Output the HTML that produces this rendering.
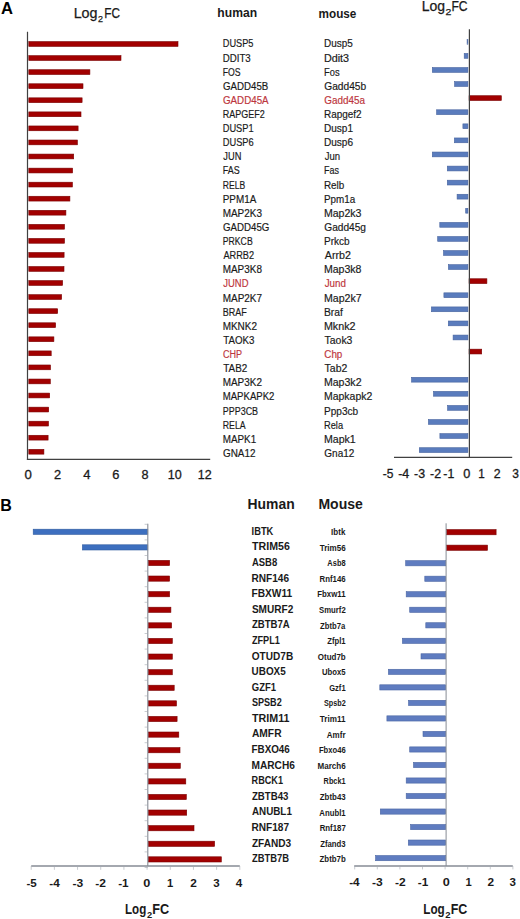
<!DOCTYPE html>
<html><head><meta charset="utf-8"><style>
html,body{margin:0;padding:0;background:#fff;}
body{width:520px;height:919px;overflow:hidden;}
svg{display:block;font-family:"Liberation Sans", sans-serif;}
</style></head><body>
<svg width="520" height="919" viewBox="0 0 520 919">
<rect width="520" height="919" fill="#fff"/>
<text x="0.9" y="13.5" font-size="16.6" font-weight="bold" fill="#000">A</text>
<text x="73.63" y="18.10" font-size="14.60" fill="#1a1a1a" stroke="#1a1a1a" stroke-width="0.25" textLength="23.90" lengthAdjust="spacingAndGlyphs">Log</text>
<text x="98.05" y="22.40" font-size="9.40" fill="#1a1a1a" stroke="#1a1a1a" stroke-width="0.25" textLength="5.01" lengthAdjust="spacingAndGlyphs">2</text>
<text x="104.23" y="18.10" font-size="14.60" fill="#1a1a1a" stroke="#1a1a1a" stroke-width="0.25" textLength="15.72" lengthAdjust="spacingAndGlyphs">FC</text>
<text x="421.75" y="11.30" font-size="14.10" fill="#1a1a1a" stroke="#1a1a1a" stroke-width="0.25" textLength="23.35" lengthAdjust="spacingAndGlyphs">Log</text>
<text x="445.47" y="15.40" font-size="9.00" fill="#1a1a1a" stroke="#1a1a1a" stroke-width="0.25" textLength="5.86" lengthAdjust="spacingAndGlyphs">2</text>
<text x="451.41" y="11.30" font-size="14.10" fill="#1a1a1a" stroke="#1a1a1a" stroke-width="0.25" textLength="16.16" lengthAdjust="spacingAndGlyphs">FC</text>
<text x="217.35" y="17.00" font-size="12.73" font-weight="bold" fill="#1a1a1a" textLength="39.73" lengthAdjust="spacingAndGlyphs">human</text>
<text x="318.53" y="18.40" font-size="12.73" font-weight="bold" fill="#1a1a1a" textLength="37.86" lengthAdjust="spacingAndGlyphs">mouse</text>
<rect x="28.80" y="41.60" width="149.20" height="4.80" fill="#a20000" stroke="#7a0000" stroke-width="0.6"/>
<rect x="28.80" y="55.66" width="92.20" height="4.80" fill="#a20000" stroke="#7a0000" stroke-width="0.6"/>
<rect x="28.80" y="69.72" width="61.10" height="4.80" fill="#a20000" stroke="#7a0000" stroke-width="0.6"/>
<rect x="28.80" y="83.78" width="54.20" height="4.80" fill="#a20000" stroke="#7a0000" stroke-width="0.6"/>
<rect x="28.80" y="97.84" width="53.30" height="4.80" fill="#a20000" stroke="#7a0000" stroke-width="0.6"/>
<rect x="28.80" y="111.90" width="52.20" height="4.80" fill="#a20000" stroke="#7a0000" stroke-width="0.6"/>
<rect x="28.80" y="125.96" width="49.30" height="4.80" fill="#a20000" stroke="#7a0000" stroke-width="0.6"/>
<rect x="28.80" y="140.02" width="48.60" height="4.80" fill="#a20000" stroke="#7a0000" stroke-width="0.6"/>
<rect x="28.80" y="154.08" width="44.90" height="4.80" fill="#a20000" stroke="#7a0000" stroke-width="0.6"/>
<rect x="28.80" y="168.14" width="43.80" height="4.80" fill="#a20000" stroke="#7a0000" stroke-width="0.6"/>
<rect x="28.80" y="182.20" width="43.60" height="4.80" fill="#a20000" stroke="#7a0000" stroke-width="0.6"/>
<rect x="28.80" y="196.26" width="41.10" height="4.80" fill="#a20000" stroke="#7a0000" stroke-width="0.6"/>
<rect x="28.80" y="210.32" width="37.10" height="4.80" fill="#a20000" stroke="#7a0000" stroke-width="0.6"/>
<rect x="28.80" y="224.38" width="35.70" height="4.80" fill="#a20000" stroke="#7a0000" stroke-width="0.6"/>
<rect x="28.80" y="238.44" width="35.70" height="4.80" fill="#a20000" stroke="#7a0000" stroke-width="0.6"/>
<rect x="28.80" y="252.50" width="35.30" height="4.80" fill="#a20000" stroke="#7a0000" stroke-width="0.6"/>
<rect x="28.80" y="266.56" width="35.20" height="4.80" fill="#a20000" stroke="#7a0000" stroke-width="0.6"/>
<rect x="28.80" y="280.62" width="33.80" height="4.80" fill="#a20000" stroke="#7a0000" stroke-width="0.6"/>
<rect x="28.80" y="294.68" width="32.80" height="4.80" fill="#a20000" stroke="#7a0000" stroke-width="0.6"/>
<rect x="28.80" y="308.74" width="28.90" height="4.80" fill="#a20000" stroke="#7a0000" stroke-width="0.6"/>
<rect x="28.80" y="322.80" width="26.80" height="4.80" fill="#a20000" stroke="#7a0000" stroke-width="0.6"/>
<rect x="28.80" y="336.86" width="25.10" height="4.80" fill="#a20000" stroke="#7a0000" stroke-width="0.6"/>
<rect x="28.80" y="350.92" width="22.40" height="4.80" fill="#a20000" stroke="#7a0000" stroke-width="0.6"/>
<rect x="28.80" y="364.98" width="21.70" height="4.80" fill="#a20000" stroke="#7a0000" stroke-width="0.6"/>
<rect x="28.80" y="379.04" width="21.50" height="4.80" fill="#a20000" stroke="#7a0000" stroke-width="0.6"/>
<rect x="28.80" y="393.10" width="20.90" height="4.80" fill="#a20000" stroke="#7a0000" stroke-width="0.6"/>
<rect x="28.80" y="407.16" width="19.90" height="4.80" fill="#a20000" stroke="#7a0000" stroke-width="0.6"/>
<rect x="28.80" y="421.22" width="19.70" height="4.80" fill="#a20000" stroke="#7a0000" stroke-width="0.6"/>
<rect x="28.80" y="435.28" width="19.30" height="4.80" fill="#a20000" stroke="#7a0000" stroke-width="0.6"/>
<rect x="28.80" y="449.34" width="15.10" height="4.80" fill="#a20000" stroke="#7a0000" stroke-width="0.6"/>
<line x1="27.50" y1="31.80" x2="27.50" y2="460.00" stroke="#404040" stroke-width="1.2"/>
<line x1="26.90" y1="459.40" x2="210.20" y2="459.40" stroke="#404040" stroke-width="1.3"/>
<text x="24.42" y="478.80" font-size="12.65" fill="#1a1a1a" stroke="#1a1a1a" stroke-width="0.3" textLength="7.36" lengthAdjust="spacingAndGlyphs">0</text>
<text x="53.94" y="478.80" font-size="12.65" fill="#1a1a1a" stroke="#1a1a1a" stroke-width="0.3" textLength="7.12" lengthAdjust="spacingAndGlyphs">2</text>
<text x="83.31" y="478.80" font-size="12.65" fill="#1a1a1a" stroke="#1a1a1a" stroke-width="0.3" textLength="7.26" lengthAdjust="spacingAndGlyphs">4</text>
<text x="112.38" y="478.80" font-size="12.65" fill="#1a1a1a" stroke="#1a1a1a" stroke-width="0.3" textLength="7.16" lengthAdjust="spacingAndGlyphs">6</text>
<text x="141.48" y="478.80" font-size="12.65" fill="#1a1a1a" stroke="#1a1a1a" stroke-width="0.3" textLength="7.03" lengthAdjust="spacingAndGlyphs">8</text>
<text x="167.78" y="478.80" font-size="12.65" fill="#1a1a1a" stroke="#1a1a1a" stroke-width="0.3" textLength="13.98" lengthAdjust="spacingAndGlyphs">10</text>
<text x="197.70" y="478.80" font-size="12.65" fill="#1a1a1a" stroke="#1a1a1a" stroke-width="0.3" textLength="13.88" lengthAdjust="spacingAndGlyphs">12</text>
<text x="222.75" y="47.40" font-size="10.58" fill="#1a1a1a" stroke="#1a1a1a" stroke-width="0.18" textLength="30.67" lengthAdjust="spacingAndGlyphs">DUSP5</text>
<text x="323.98" y="47.40" font-size="10.58" fill="#1a1a1a" stroke="#1a1a1a" stroke-width="0.18" textLength="28.77" lengthAdjust="spacingAndGlyphs">Dusp5</text>
<text x="222.70" y="61.52" font-size="10.58" fill="#1a1a1a" stroke="#1a1a1a" stroke-width="0.18" textLength="28.01" lengthAdjust="spacingAndGlyphs">DDIT3</text>
<text x="323.92" y="61.52" font-size="10.58" fill="#1a1a1a" stroke="#1a1a1a" stroke-width="0.18" textLength="25.15" lengthAdjust="spacingAndGlyphs">Ddit3</text>
<text x="222.79" y="75.64" font-size="10.58" fill="#1a1a1a" stroke="#1a1a1a" stroke-width="0.18" textLength="17.82" lengthAdjust="spacingAndGlyphs">FOS</text>
<text x="324.04" y="75.64" font-size="10.58" fill="#1a1a1a" stroke="#1a1a1a" stroke-width="0.18" textLength="15.53" lengthAdjust="spacingAndGlyphs">Fos</text>
<text x="223.01" y="89.76" font-size="10.58" fill="#1a1a1a" stroke="#1a1a1a" stroke-width="0.18" textLength="45.26" lengthAdjust="spacingAndGlyphs">GADD45B</text>
<text x="324.29" y="89.76" font-size="10.58" fill="#1a1a1a" stroke="#1a1a1a" stroke-width="0.18" textLength="41.91" lengthAdjust="spacingAndGlyphs">Gadd45b</text>
<text x="223.01" y="103.88" font-size="10.58" fill="#bd363d" stroke="#bd363d" stroke-width="0.18" textLength="45.61" lengthAdjust="spacingAndGlyphs">GADD45A</text>
<text x="324.30" y="103.88" font-size="10.58" fill="#bd363d" stroke="#bd363d" stroke-width="0.18" textLength="40.66" lengthAdjust="spacingAndGlyphs">Gadd45a</text>
<text x="222.76" y="118.00" font-size="10.58" fill="#1a1a1a" stroke="#1a1a1a" stroke-width="0.18" textLength="41.98" lengthAdjust="spacingAndGlyphs">RAPGEF2</text>
<text x="323.98" y="118.00" font-size="10.58" fill="#1a1a1a" stroke="#1a1a1a" stroke-width="0.18" textLength="37.63" lengthAdjust="spacingAndGlyphs">Rapgef2</text>
<text x="222.74" y="132.12" font-size="10.58" fill="#1a1a1a" stroke="#1a1a1a" stroke-width="0.18" textLength="30.90" lengthAdjust="spacingAndGlyphs">DUSP1</text>
<text x="323.98" y="132.12" font-size="10.58" fill="#1a1a1a" stroke="#1a1a1a" stroke-width="0.18" textLength="29.01" lengthAdjust="spacingAndGlyphs">Dusp1</text>
<text x="222.74" y="146.24" font-size="10.58" fill="#1a1a1a" stroke="#1a1a1a" stroke-width="0.18" textLength="30.97" lengthAdjust="spacingAndGlyphs">DUSP6</text>
<text x="323.97" y="146.24" font-size="10.58" fill="#1a1a1a" stroke="#1a1a1a" stroke-width="0.18" textLength="29.08" lengthAdjust="spacingAndGlyphs">Dusp6</text>
<text x="223.35" y="160.36" font-size="10.58" fill="#1a1a1a" stroke="#1a1a1a" stroke-width="0.18" textLength="18.04" lengthAdjust="spacingAndGlyphs">JUN</text>
<text x="324.65" y="160.36" font-size="10.58" fill="#1a1a1a" stroke="#1a1a1a" stroke-width="0.18" textLength="15.37" lengthAdjust="spacingAndGlyphs">Jun</text>
<text x="222.79" y="174.48" font-size="10.58" fill="#1a1a1a" stroke="#1a1a1a" stroke-width="0.18" textLength="16.87" lengthAdjust="spacingAndGlyphs">FAS</text>
<text x="324.06" y="174.48" font-size="10.58" fill="#1a1a1a" stroke="#1a1a1a" stroke-width="0.18" textLength="14.94" lengthAdjust="spacingAndGlyphs">Fas</text>
<text x="222.80" y="188.60" font-size="10.58" fill="#1a1a1a" stroke="#1a1a1a" stroke-width="0.18" textLength="22.41" lengthAdjust="spacingAndGlyphs">RELB</text>
<text x="323.99" y="188.60" font-size="10.58" fill="#1a1a1a" stroke="#1a1a1a" stroke-width="0.18" textLength="20.29" lengthAdjust="spacingAndGlyphs">Relb</text>
<text x="222.69" y="202.72" font-size="10.58" fill="#1a1a1a" stroke="#1a1a1a" stroke-width="0.18" textLength="33.58" lengthAdjust="spacingAndGlyphs">PPM1A</text>
<text x="323.99" y="202.72" font-size="10.58" fill="#1a1a1a" stroke="#1a1a1a" stroke-width="0.18" textLength="31.24" lengthAdjust="spacingAndGlyphs">Ppm1a</text>
<text x="222.68" y="216.84" font-size="10.58" fill="#1a1a1a" stroke="#1a1a1a" stroke-width="0.18" textLength="39.26" lengthAdjust="spacingAndGlyphs">MAP2K3</text>
<text x="323.93" y="216.84" font-size="10.58" fill="#1a1a1a" stroke="#1a1a1a" stroke-width="0.18" textLength="37.58" lengthAdjust="spacingAndGlyphs">Map2k3</text>
<text x="223.01" y="230.96" font-size="10.58" fill="#1a1a1a" stroke="#1a1a1a" stroke-width="0.18" textLength="46.35" lengthAdjust="spacingAndGlyphs">GADD45G</text>
<text x="324.29" y="230.96" font-size="10.58" fill="#1a1a1a" stroke="#1a1a1a" stroke-width="0.18" textLength="41.73" lengthAdjust="spacingAndGlyphs">Gadd45g</text>
<text x="222.79" y="245.08" font-size="10.58" fill="#1a1a1a" stroke="#1a1a1a" stroke-width="0.18" textLength="29.89" lengthAdjust="spacingAndGlyphs">PRKCB</text>
<text x="323.98" y="245.08" font-size="10.58" fill="#1a1a1a" stroke="#1a1a1a" stroke-width="0.18" textLength="25.65" lengthAdjust="spacingAndGlyphs">Prkcb</text>
<text x="223.48" y="259.20" font-size="10.58" fill="#1a1a1a" stroke="#1a1a1a" stroke-width="0.18" textLength="30.64" lengthAdjust="spacingAndGlyphs">ARRB2</text>
<text x="324.78" y="259.20" font-size="10.58" fill="#1a1a1a" stroke="#1a1a1a" stroke-width="0.18" textLength="26.12" lengthAdjust="spacingAndGlyphs">Arrb2</text>
<text x="222.68" y="273.32" font-size="10.58" fill="#1a1a1a" stroke="#1a1a1a" stroke-width="0.18" textLength="39.24" lengthAdjust="spacingAndGlyphs">MAP3K8</text>
<text x="323.93" y="273.32" font-size="10.58" fill="#1a1a1a" stroke="#1a1a1a" stroke-width="0.18" textLength="37.55" lengthAdjust="spacingAndGlyphs">Map3k8</text>
<text x="223.35" y="287.44" font-size="10.58" fill="#bd363d" stroke="#bd363d" stroke-width="0.18" textLength="25.14" lengthAdjust="spacingAndGlyphs">JUND</text>
<text x="324.65" y="287.44" font-size="10.58" fill="#bd363d" stroke="#bd363d" stroke-width="0.18" textLength="21.22" lengthAdjust="spacingAndGlyphs">Jund</text>
<text x="222.68" y="301.56" font-size="10.58" fill="#1a1a1a" stroke="#1a1a1a" stroke-width="0.18" textLength="39.40" lengthAdjust="spacingAndGlyphs">MAP2K7</text>
<text x="323.93" y="301.56" font-size="10.58" fill="#1a1a1a" stroke="#1a1a1a" stroke-width="0.18" textLength="37.72" lengthAdjust="spacingAndGlyphs">Map2k7</text>
<text x="222.76" y="315.68" font-size="10.58" fill="#1a1a1a" stroke="#1a1a1a" stroke-width="0.18" textLength="23.99" lengthAdjust="spacingAndGlyphs">BRAF</text>
<text x="323.95" y="315.68" font-size="10.58" fill="#1a1a1a" stroke="#1a1a1a" stroke-width="0.18" textLength="18.91" lengthAdjust="spacingAndGlyphs">Braf</text>
<text x="222.68" y="329.80" font-size="10.58" fill="#1a1a1a" stroke="#1a1a1a" stroke-width="0.18" textLength="34.34" lengthAdjust="spacingAndGlyphs">MKNK2</text>
<text x="323.92" y="329.80" font-size="10.58" fill="#1a1a1a" stroke="#1a1a1a" stroke-width="0.18" textLength="31.62" lengthAdjust="spacingAndGlyphs">Mknk2</text>
<text x="223.29" y="343.92" font-size="10.58" fill="#1a1a1a" stroke="#1a1a1a" stroke-width="0.18" textLength="31.19" lengthAdjust="spacingAndGlyphs">TAOK3</text>
<text x="324.57" y="343.92" font-size="10.58" fill="#1a1a1a" stroke="#1a1a1a" stroke-width="0.18" textLength="27.84" lengthAdjust="spacingAndGlyphs">Taok3</text>
<text x="223.04" y="358.04" font-size="10.58" fill="#bd363d" stroke="#bd363d" stroke-width="0.18" textLength="19.12" lengthAdjust="spacingAndGlyphs">CHP</text>
<text x="324.30" y="358.04" font-size="10.58" fill="#bd363d" stroke="#bd363d" stroke-width="0.18" textLength="18.03" lengthAdjust="spacingAndGlyphs">Chp</text>
<text x="223.28" y="372.16" font-size="10.58" fill="#1a1a1a" stroke="#1a1a1a" stroke-width="0.18" textLength="24.00" lengthAdjust="spacingAndGlyphs">TAB2</text>
<text x="324.58" y="372.16" font-size="10.58" fill="#1a1a1a" stroke="#1a1a1a" stroke-width="0.18" textLength="22.70" lengthAdjust="spacingAndGlyphs">Tab2</text>
<text x="222.68" y="386.28" font-size="10.58" fill="#1a1a1a" stroke="#1a1a1a" stroke-width="0.18" textLength="39.28" lengthAdjust="spacingAndGlyphs">MAP3K2</text>
<text x="323.93" y="386.28" font-size="10.58" fill="#1a1a1a" stroke="#1a1a1a" stroke-width="0.18" textLength="37.60" lengthAdjust="spacingAndGlyphs">Map3k2</text>
<text x="222.71" y="400.40" font-size="10.58" fill="#1a1a1a" stroke="#1a1a1a" stroke-width="0.18" textLength="51.75" lengthAdjust="spacingAndGlyphs">MAPKAPK2</text>
<text x="323.94" y="400.40" font-size="10.58" fill="#1a1a1a" stroke="#1a1a1a" stroke-width="0.18" textLength="48.35" lengthAdjust="spacingAndGlyphs">Mapkapk2</text>
<text x="222.77" y="414.52" font-size="10.58" fill="#1a1a1a" stroke="#1a1a1a" stroke-width="0.18" textLength="35.32" lengthAdjust="spacingAndGlyphs">PPP3CB</text>
<text x="323.97" y="414.52" font-size="10.58" fill="#1a1a1a" stroke="#1a1a1a" stroke-width="0.18" textLength="34.18" lengthAdjust="spacingAndGlyphs">Ppp3cb</text>
<text x="222.78" y="428.64" font-size="10.58" fill="#1a1a1a" stroke="#1a1a1a" stroke-width="0.18" textLength="22.83" lengthAdjust="spacingAndGlyphs">RELA</text>
<text x="324.04" y="428.64" font-size="10.58" fill="#1a1a1a" stroke="#1a1a1a" stroke-width="0.18" textLength="19.02" lengthAdjust="spacingAndGlyphs">Rela</text>
<text x="222.69" y="442.76" font-size="10.58" fill="#1a1a1a" stroke="#1a1a1a" stroke-width="0.18" textLength="33.50" lengthAdjust="spacingAndGlyphs">MAPK1</text>
<text x="323.93" y="442.76" font-size="10.58" fill="#1a1a1a" stroke="#1a1a1a" stroke-width="0.18" textLength="31.83" lengthAdjust="spacingAndGlyphs">Mapk1</text>
<text x="223.00" y="456.88" font-size="10.58" fill="#1a1a1a" stroke="#1a1a1a" stroke-width="0.18" textLength="32.51" lengthAdjust="spacingAndGlyphs">GNA12</text>
<text x="324.30" y="456.88" font-size="10.58" fill="#1a1a1a" stroke="#1a1a1a" stroke-width="0.18" textLength="30.03" lengthAdjust="spacingAndGlyphs">Gna12</text>
<rect x="467.10" y="39.40" width="0.80" height="4.80" fill="#5a7cbd" stroke="#46639e" stroke-width="0.6"/>
<rect x="464.20" y="53.48" width="3.70" height="4.80" fill="#5a7cbd" stroke="#46639e" stroke-width="0.6"/>
<rect x="432.30" y="67.56" width="35.60" height="4.80" fill="#5a7cbd" stroke="#46639e" stroke-width="0.6"/>
<rect x="454.60" y="81.64" width="13.30" height="4.80" fill="#5a7cbd" stroke="#46639e" stroke-width="0.6"/>
<rect x="469.10" y="95.72" width="32.20" height="4.80" fill="#a20000" stroke="#7a0000" stroke-width="0.6"/>
<rect x="436.60" y="109.80" width="31.30" height="4.80" fill="#5a7cbd" stroke="#46639e" stroke-width="0.6"/>
<rect x="462.90" y="123.88" width="5.00" height="4.80" fill="#5a7cbd" stroke="#46639e" stroke-width="0.6"/>
<rect x="454.40" y="137.96" width="13.50" height="4.80" fill="#5a7cbd" stroke="#46639e" stroke-width="0.6"/>
<rect x="432.30" y="152.04" width="35.60" height="4.80" fill="#5a7cbd" stroke="#46639e" stroke-width="0.6"/>
<rect x="447.30" y="166.12" width="20.60" height="4.80" fill="#5a7cbd" stroke="#46639e" stroke-width="0.6"/>
<rect x="447.30" y="180.20" width="20.60" height="4.80" fill="#5a7cbd" stroke="#46639e" stroke-width="0.6"/>
<rect x="457.10" y="194.28" width="10.80" height="4.80" fill="#5a7cbd" stroke="#46639e" stroke-width="0.6"/>
<rect x="465.70" y="208.36" width="2.20" height="4.80" fill="#5a7cbd" stroke="#46639e" stroke-width="0.6"/>
<rect x="439.80" y="222.44" width="28.10" height="4.80" fill="#5a7cbd" stroke="#46639e" stroke-width="0.6"/>
<rect x="437.70" y="236.52" width="30.20" height="4.80" fill="#5a7cbd" stroke="#46639e" stroke-width="0.6"/>
<rect x="443.50" y="250.60" width="24.40" height="4.80" fill="#5a7cbd" stroke="#46639e" stroke-width="0.6"/>
<rect x="448.40" y="264.68" width="19.50" height="4.80" fill="#5a7cbd" stroke="#46639e" stroke-width="0.6"/>
<rect x="469.10" y="278.76" width="17.80" height="4.80" fill="#a20000" stroke="#7a0000" stroke-width="0.6"/>
<rect x="443.90" y="292.84" width="24.00" height="4.80" fill="#5a7cbd" stroke="#46639e" stroke-width="0.6"/>
<rect x="431.40" y="306.92" width="36.50" height="4.80" fill="#5a7cbd" stroke="#46639e" stroke-width="0.6"/>
<rect x="448.30" y="321.00" width="19.60" height="4.80" fill="#5a7cbd" stroke="#46639e" stroke-width="0.6"/>
<rect x="453.10" y="335.08" width="14.80" height="4.80" fill="#5a7cbd" stroke="#46639e" stroke-width="0.6"/>
<rect x="469.10" y="349.16" width="12.60" height="4.80" fill="#a20000" stroke="#7a0000" stroke-width="0.6"/>
<rect x="411.60" y="377.32" width="56.30" height="4.80" fill="#5a7cbd" stroke="#46639e" stroke-width="0.6"/>
<rect x="433.50" y="391.40" width="34.40" height="4.80" fill="#5a7cbd" stroke="#46639e" stroke-width="0.6"/>
<rect x="447.60" y="405.48" width="20.30" height="4.80" fill="#5a7cbd" stroke="#46639e" stroke-width="0.6"/>
<rect x="428.40" y="419.56" width="39.50" height="4.80" fill="#5a7cbd" stroke="#46639e" stroke-width="0.6"/>
<rect x="439.90" y="433.64" width="28.00" height="4.80" fill="#5a7cbd" stroke="#46639e" stroke-width="0.6"/>
<rect x="419.30" y="447.72" width="48.60" height="4.80" fill="#5a7cbd" stroke="#46639e" stroke-width="0.6"/>
<line x1="469.40" y1="29.20" x2="469.40" y2="457.80" stroke="#404040" stroke-width="1.2"/>
<line x1="394.00" y1="457.30" x2="512.20" y2="457.30" stroke="#404040" stroke-width="1.3"/>
<text x="382.66" y="478.20" font-size="12.19" fill="#1a1a1a" stroke="#1a1a1a" stroke-width="0.3" textLength="10.65" lengthAdjust="spacingAndGlyphs">-5</text>
<text x="398.15" y="478.20" font-size="12.19" fill="#1a1a1a" stroke="#1a1a1a" stroke-width="0.3" textLength="11.10" lengthAdjust="spacingAndGlyphs">-4</text>
<text x="414.10" y="478.20" font-size="12.19" fill="#1a1a1a" stroke="#1a1a1a" stroke-width="0.3" textLength="10.98" lengthAdjust="spacingAndGlyphs">-3</text>
<text x="430.13" y="478.20" font-size="12.19" fill="#1a1a1a" stroke="#1a1a1a" stroke-width="0.3" textLength="11.01" lengthAdjust="spacingAndGlyphs">-2</text>
<text x="443.35" y="478.20" font-size="12.19" fill="#1a1a1a" stroke="#1a1a1a" stroke-width="0.3" textLength="10.95" lengthAdjust="spacingAndGlyphs">-1</text>
<text x="463.35" y="478.20" font-size="12.19" fill="#1a1a1a" stroke="#1a1a1a" stroke-width="0.3" textLength="7.09" lengthAdjust="spacingAndGlyphs">0</text>
<text x="478.20" y="478.20" font-size="12.19" fill="#1a1a1a" stroke="#1a1a1a" stroke-width="0.3" textLength="6.49" lengthAdjust="spacingAndGlyphs">1</text>
<text x="493.77" y="478.20" font-size="12.19" fill="#1a1a1a" stroke="#1a1a1a" stroke-width="0.3" textLength="6.86" lengthAdjust="spacingAndGlyphs">2</text>
<text x="512.32" y="478.20" font-size="12.19" fill="#1a1a1a" stroke="#1a1a1a" stroke-width="0.3" textLength="6.64" lengthAdjust="spacingAndGlyphs">3</text>
<text x="0.3" y="511.2" font-size="16" font-weight="bold" fill="#000">B</text>
<text x="247.57" y="509.40" font-size="14.04" font-weight="bold" fill="#1a1a1a" textLength="47.09" lengthAdjust="spacingAndGlyphs">Human</text>
<text x="318.46" y="509.40" font-size="14.04" font-weight="bold" fill="#1a1a1a" textLength="44.35" lengthAdjust="spacingAndGlyphs">Mouse</text>
<text x="251.58" y="534.80" font-size="10.00" font-weight="bold" fill="#1a1a1a" textLength="21.75" lengthAdjust="spacingAndGlyphs">IBTK</text>
<text x="331.10" y="535.00" font-size="9.29" font-weight="bold" fill="#1a1a1a" textLength="14.29" lengthAdjust="spacingAndGlyphs">Ibtk</text>
<text x="252.08" y="550.39" font-size="10.00" font-weight="bold" fill="#1a1a1a" textLength="37.73" lengthAdjust="spacingAndGlyphs">TRIM56</text>
<text x="319.71" y="550.59" font-size="9.29" font-weight="bold" fill="#1a1a1a" textLength="25.97" lengthAdjust="spacingAndGlyphs">Trim56</text>
<text x="251.96" y="565.98" font-size="10.00" font-weight="bold" fill="#1a1a1a" textLength="25.26" lengthAdjust="spacingAndGlyphs">ASB8</text>
<text x="327.37" y="566.18" font-size="9.29" font-weight="bold" fill="#1a1a1a" textLength="18.26" lengthAdjust="spacingAndGlyphs">Asb8</text>
<text x="251.53" y="581.57" font-size="10.00" font-weight="bold" fill="#1a1a1a" textLength="37.56" lengthAdjust="spacingAndGlyphs">RNF146</text>
<text x="319.59" y="581.77" font-size="9.29" font-weight="bold" fill="#1a1a1a" textLength="26.09" lengthAdjust="spacingAndGlyphs">Rnf146</text>
<text x="251.53" y="597.16" font-size="10.00" font-weight="bold" fill="#1a1a1a" textLength="40.72" lengthAdjust="spacingAndGlyphs">FBXW11</text>
<text x="317.24" y="597.36" font-size="9.29" font-weight="bold" fill="#1a1a1a" textLength="28.37" lengthAdjust="spacingAndGlyphs">Fbxw11</text>
<text x="251.91" y="612.75" font-size="10.00" font-weight="bold" fill="#1a1a1a" textLength="41.35" lengthAdjust="spacingAndGlyphs">SMURF2</text>
<text x="319.09" y="612.95" font-size="9.29" font-weight="bold" fill="#1a1a1a" textLength="26.62" lengthAdjust="spacingAndGlyphs">Smurf2</text>
<text x="251.91" y="628.34" font-size="10.00" font-weight="bold" fill="#1a1a1a" textLength="37.86" lengthAdjust="spacingAndGlyphs">ZBTB7A</text>
<text x="320.12" y="628.54" font-size="9.29" font-weight="bold" fill="#1a1a1a" textLength="25.23" lengthAdjust="spacingAndGlyphs">Zbtb7a</text>
<text x="251.93" y="643.93" font-size="10.00" font-weight="bold" fill="#1a1a1a" textLength="27.96" lengthAdjust="spacingAndGlyphs">ZFPL1</text>
<text x="327.21" y="644.13" font-size="9.29" font-weight="bold" fill="#1a1a1a" textLength="18.40" lengthAdjust="spacingAndGlyphs">Zfpl1</text>
<text x="251.79" y="659.52" font-size="10.00" font-weight="bold" fill="#1a1a1a" textLength="41.42" lengthAdjust="spacingAndGlyphs">OTUD7B</text>
<text x="317.77" y="659.72" font-size="9.29" font-weight="bold" fill="#1a1a1a" textLength="27.96" lengthAdjust="spacingAndGlyphs">Otud7b</text>
<text x="251.61" y="675.11" font-size="10.00" font-weight="bold" fill="#1a1a1a" textLength="34.12" lengthAdjust="spacingAndGlyphs">UBOX5</text>
<text x="322.03" y="675.31" font-size="9.29" font-weight="bold" fill="#1a1a1a" textLength="23.58" lengthAdjust="spacingAndGlyphs">Ubox5</text>
<text x="251.81" y="690.70" font-size="10.00" font-weight="bold" fill="#1a1a1a" textLength="24.25" lengthAdjust="spacingAndGlyphs">GZF1</text>
<text x="329.21" y="690.90" font-size="9.29" font-weight="bold" fill="#1a1a1a" textLength="16.40" lengthAdjust="spacingAndGlyphs">Gzf1</text>
<text x="251.94" y="706.29" font-size="10.00" font-weight="bold" fill="#1a1a1a" textLength="29.78" lengthAdjust="spacingAndGlyphs">SPSB2</text>
<text x="323.97" y="706.49" font-size="9.29" font-weight="bold" fill="#1a1a1a" textLength="21.72" lengthAdjust="spacingAndGlyphs">Spsb2</text>
<text x="252.08" y="721.88" font-size="10.00" font-weight="bold" fill="#1a1a1a" textLength="37.45" lengthAdjust="spacingAndGlyphs">TRIM11</text>
<text x="319.85" y="722.08" font-size="9.29" font-weight="bold" fill="#1a1a1a" textLength="25.77" lengthAdjust="spacingAndGlyphs">Trim11</text>
<text x="251.94" y="737.47" font-size="10.00" font-weight="bold" fill="#1a1a1a" textLength="29.60" lengthAdjust="spacingAndGlyphs">AMFR</text>
<text x="326.84" y="737.67" font-size="9.29" font-weight="bold" fill="#1a1a1a" textLength="18.68" lengthAdjust="spacingAndGlyphs">Amfr</text>
<text x="251.54" y="753.06" font-size="10.00" font-weight="bold" fill="#1a1a1a" textLength="38.28" lengthAdjust="spacingAndGlyphs">FBXO46</text>
<text x="318.95" y="753.26" font-size="9.29" font-weight="bold" fill="#1a1a1a" textLength="26.73" lengthAdjust="spacingAndGlyphs">Fbxo46</text>
<text x="251.52" y="768.65" font-size="10.00" font-weight="bold" fill="#1a1a1a" textLength="43.40" lengthAdjust="spacingAndGlyphs">MARCH6</text>
<text x="317.47" y="768.85" font-size="9.29" font-weight="bold" fill="#1a1a1a" textLength="28.22" lengthAdjust="spacingAndGlyphs">March6</text>
<text x="251.59" y="784.24" font-size="10.00" font-weight="bold" fill="#1a1a1a" textLength="31.42" lengthAdjust="spacingAndGlyphs">RBCK1</text>
<text x="323.58" y="784.44" font-size="9.29" font-weight="bold" fill="#1a1a1a" textLength="22.02" lengthAdjust="spacingAndGlyphs">Rbck1</text>
<text x="251.91" y="799.83" font-size="10.00" font-weight="bold" fill="#1a1a1a" textLength="36.48" lengthAdjust="spacingAndGlyphs">ZBTB43</text>
<text x="319.79" y="800.03" font-size="9.29" font-weight="bold" fill="#1a1a1a" textLength="25.90" lengthAdjust="spacingAndGlyphs">Zbtb43</text>
<text x="251.95" y="815.42" font-size="10.00" font-weight="bold" fill="#1a1a1a" textLength="39.93" lengthAdjust="spacingAndGlyphs">ANUBL1</text>
<text x="319.29" y="815.62" font-size="9.29" font-weight="bold" fill="#1a1a1a" textLength="26.33" lengthAdjust="spacingAndGlyphs">Anubl1</text>
<text x="251.52" y="831.01" font-size="10.00" font-weight="bold" fill="#1a1a1a" textLength="37.59" lengthAdjust="spacingAndGlyphs">RNF187</text>
<text x="319.63" y="831.21" font-size="9.29" font-weight="bold" fill="#1a1a1a" textLength="26.11" lengthAdjust="spacingAndGlyphs">Rnf187</text>
<text x="251.90" y="846.60" font-size="10.00" font-weight="bold" fill="#1a1a1a" textLength="39.20" lengthAdjust="spacingAndGlyphs">ZFAND3</text>
<text x="320.18" y="846.80" font-size="9.29" font-weight="bold" fill="#1a1a1a" textLength="25.50" lengthAdjust="spacingAndGlyphs">Zfand3</text>
<text x="251.92" y="862.19" font-size="10.00" font-weight="bold" fill="#1a1a1a" textLength="37.12" lengthAdjust="spacingAndGlyphs">ZBTB7B</text>
<text x="319.55" y="862.39" font-size="9.29" font-weight="bold" fill="#1a1a1a" textLength="26.17" lengthAdjust="spacingAndGlyphs">Zbtb7b</text>
<rect x="33.20" y="529.20" width="114.60" height="5.20" fill="#3d6fbf" stroke="#2f5a9e" stroke-width="0.6"/>
<rect x="82.40" y="544.80" width="65.40" height="5.20" fill="#3d6fbf" stroke="#2f5a9e" stroke-width="0.6"/>
<rect x="148.30" y="560.40" width="21.30" height="5.20" fill="#a20000" stroke="#7a0000" stroke-width="0.6"/>
<rect x="148.30" y="576.00" width="21.30" height="5.20" fill="#a20000" stroke="#7a0000" stroke-width="0.6"/>
<rect x="148.30" y="591.60" width="21.30" height="5.20" fill="#a20000" stroke="#7a0000" stroke-width="0.6"/>
<rect x="148.30" y="607.20" width="22.60" height="5.20" fill="#a20000" stroke="#7a0000" stroke-width="0.6"/>
<rect x="148.30" y="622.80" width="23.30" height="5.20" fill="#a20000" stroke="#7a0000" stroke-width="0.6"/>
<rect x="148.30" y="638.40" width="24.00" height="5.20" fill="#a20000" stroke="#7a0000" stroke-width="0.6"/>
<rect x="148.30" y="654.00" width="24.00" height="5.20" fill="#a20000" stroke="#7a0000" stroke-width="0.6"/>
<rect x="148.30" y="669.60" width="24.00" height="5.20" fill="#a20000" stroke="#7a0000" stroke-width="0.6"/>
<rect x="148.30" y="685.20" width="25.90" height="5.20" fill="#a20000" stroke="#7a0000" stroke-width="0.6"/>
<rect x="148.30" y="700.80" width="28.20" height="5.20" fill="#a20000" stroke="#7a0000" stroke-width="0.6"/>
<rect x="148.30" y="716.40" width="28.80" height="5.20" fill="#a20000" stroke="#7a0000" stroke-width="0.6"/>
<rect x="148.30" y="732.00" width="30.50" height="5.20" fill="#a20000" stroke="#7a0000" stroke-width="0.6"/>
<rect x="148.30" y="747.60" width="31.70" height="5.20" fill="#a20000" stroke="#7a0000" stroke-width="0.6"/>
<rect x="148.30" y="763.20" width="32.00" height="5.20" fill="#a20000" stroke="#7a0000" stroke-width="0.6"/>
<rect x="148.30" y="778.80" width="37.50" height="5.20" fill="#a20000" stroke="#7a0000" stroke-width="0.6"/>
<rect x="148.30" y="794.40" width="38.00" height="5.20" fill="#a20000" stroke="#7a0000" stroke-width="0.6"/>
<rect x="148.30" y="810.00" width="38.40" height="5.20" fill="#a20000" stroke="#7a0000" stroke-width="0.6"/>
<rect x="148.30" y="825.60" width="45.70" height="5.20" fill="#a20000" stroke="#7a0000" stroke-width="0.6"/>
<rect x="148.30" y="841.20" width="66.30" height="5.20" fill="#a20000" stroke="#7a0000" stroke-width="0.6"/>
<rect x="148.30" y="856.80" width="73.00" height="5.20" fill="#a20000" stroke="#7a0000" stroke-width="0.6"/>
<line x1="147.80" y1="523.80" x2="147.80" y2="866.00" stroke="#868b94" stroke-width="1.1"/>
<line x1="144.60" y1="524.30" x2="147.80" y2="524.30" stroke="#a3a8b0" stroke-width="0.6"/>
<line x1="144.60" y1="539.90" x2="147.80" y2="539.90" stroke="#a3a8b0" stroke-width="0.6"/>
<line x1="144.60" y1="555.50" x2="147.80" y2="555.50" stroke="#a3a8b0" stroke-width="0.6"/>
<line x1="144.60" y1="571.10" x2="147.80" y2="571.10" stroke="#a3a8b0" stroke-width="0.6"/>
<line x1="144.60" y1="586.70" x2="147.80" y2="586.70" stroke="#a3a8b0" stroke-width="0.6"/>
<line x1="144.60" y1="602.30" x2="147.80" y2="602.30" stroke="#a3a8b0" stroke-width="0.6"/>
<line x1="144.60" y1="617.90" x2="147.80" y2="617.90" stroke="#a3a8b0" stroke-width="0.6"/>
<line x1="144.60" y1="633.50" x2="147.80" y2="633.50" stroke="#a3a8b0" stroke-width="0.6"/>
<line x1="144.60" y1="649.10" x2="147.80" y2="649.10" stroke="#a3a8b0" stroke-width="0.6"/>
<line x1="144.60" y1="664.70" x2="147.80" y2="664.70" stroke="#a3a8b0" stroke-width="0.6"/>
<line x1="144.60" y1="680.30" x2="147.80" y2="680.30" stroke="#a3a8b0" stroke-width="0.6"/>
<line x1="144.60" y1="695.90" x2="147.80" y2="695.90" stroke="#a3a8b0" stroke-width="0.6"/>
<line x1="144.60" y1="711.50" x2="147.80" y2="711.50" stroke="#a3a8b0" stroke-width="0.6"/>
<line x1="144.60" y1="727.10" x2="147.80" y2="727.10" stroke="#a3a8b0" stroke-width="0.6"/>
<line x1="144.60" y1="742.70" x2="147.80" y2="742.70" stroke="#a3a8b0" stroke-width="0.6"/>
<line x1="144.60" y1="758.30" x2="147.80" y2="758.30" stroke="#a3a8b0" stroke-width="0.6"/>
<line x1="144.60" y1="773.90" x2="147.80" y2="773.90" stroke="#a3a8b0" stroke-width="0.6"/>
<line x1="144.60" y1="789.50" x2="147.80" y2="789.50" stroke="#a3a8b0" stroke-width="0.6"/>
<line x1="144.60" y1="805.10" x2="147.80" y2="805.10" stroke="#a3a8b0" stroke-width="0.6"/>
<line x1="144.60" y1="820.70" x2="147.80" y2="820.70" stroke="#a3a8b0" stroke-width="0.6"/>
<line x1="144.60" y1="836.30" x2="147.80" y2="836.30" stroke="#a3a8b0" stroke-width="0.6"/>
<line x1="144.60" y1="851.90" x2="147.80" y2="851.90" stroke="#a3a8b0" stroke-width="0.6"/>
<line x1="144.60" y1="867.50" x2="147.80" y2="867.50" stroke="#a3a8b0" stroke-width="0.6"/>
<line x1="31.20" y1="866.00" x2="239.80" y2="866.00" stroke="#868b94" stroke-width="1.3"/>
<line x1="31.20" y1="866.00" x2="31.20" y2="869.80" stroke="#a3a8b0" stroke-width="0.6"/>
<line x1="54.38" y1="866.00" x2="54.38" y2="869.80" stroke="#a3a8b0" stroke-width="0.6"/>
<line x1="77.56" y1="866.00" x2="77.56" y2="869.80" stroke="#a3a8b0" stroke-width="0.6"/>
<line x1="100.73" y1="866.00" x2="100.73" y2="869.80" stroke="#a3a8b0" stroke-width="0.6"/>
<line x1="123.91" y1="866.00" x2="123.91" y2="869.80" stroke="#a3a8b0" stroke-width="0.6"/>
<line x1="147.09" y1="866.00" x2="147.09" y2="869.80" stroke="#a3a8b0" stroke-width="0.6"/>
<line x1="170.27" y1="866.00" x2="170.27" y2="869.80" stroke="#a3a8b0" stroke-width="0.6"/>
<line x1="193.44" y1="866.00" x2="193.44" y2="869.80" stroke="#a3a8b0" stroke-width="0.6"/>
<line x1="216.62" y1="866.00" x2="216.62" y2="869.80" stroke="#a3a8b0" stroke-width="0.6"/>
<line x1="239.80" y1="866.00" x2="239.80" y2="869.80" stroke="#a3a8b0" stroke-width="0.6"/>
<text x="26.49" y="886.70" font-size="11.44" font-weight="bold" fill="#1a1a1a" textLength="10.30" lengthAdjust="spacingAndGlyphs">-5</text>
<text x="49.35" y="886.70" font-size="11.44" font-weight="bold" fill="#1a1a1a" textLength="10.51" lengthAdjust="spacingAndGlyphs">-4</text>
<text x="72.42" y="886.70" font-size="11.44" font-weight="bold" fill="#1a1a1a" textLength="10.73" lengthAdjust="spacingAndGlyphs">-3</text>
<text x="95.27" y="886.70" font-size="11.44" font-weight="bold" fill="#1a1a1a" textLength="10.68" lengthAdjust="spacingAndGlyphs">-2</text>
<text x="118.19" y="886.70" font-size="11.44" font-weight="bold" fill="#1a1a1a" textLength="10.48" lengthAdjust="spacingAndGlyphs">-1</text>
<text x="143.17" y="886.70" font-size="11.44" font-weight="bold" fill="#1a1a1a" textLength="7.08" lengthAdjust="spacingAndGlyphs">0</text>
<text x="167.08" y="886.70" font-size="11.44" font-weight="bold" fill="#1a1a1a" textLength="6.25" lengthAdjust="spacingAndGlyphs">1</text>
<text x="190.24" y="886.70" font-size="11.44" font-weight="bold" fill="#1a1a1a" textLength="6.58" lengthAdjust="spacingAndGlyphs">2</text>
<text x="213.36" y="886.70" font-size="11.44" font-weight="bold" fill="#1a1a1a" textLength="6.43" lengthAdjust="spacingAndGlyphs">3</text>
<text x="235.87" y="886.70" font-size="11.44" font-weight="bold" fill="#1a1a1a" textLength="6.54" lengthAdjust="spacingAndGlyphs">4</text>
<text x="125.02" y="914.30" font-size="13.90" font-weight="bold" fill="#1a1a1a" textLength="21.25" lengthAdjust="spacingAndGlyphs">Log</text>
<text x="146.98" y="917.90" font-size="8.40" font-weight="bold" fill="#1a1a1a" textLength="5.20" lengthAdjust="spacingAndGlyphs">2</text>
<text x="152.25" y="914.30" font-size="13.90" font-weight="bold" fill="#1a1a1a" textLength="16.89" lengthAdjust="spacingAndGlyphs">FC</text>
<rect x="446.60" y="529.60" width="49.50" height="5.20" fill="#a20000" stroke="#7a0000" stroke-width="0.6"/>
<rect x="446.60" y="545.12" width="40.90" height="5.20" fill="#a20000" stroke="#7a0000" stroke-width="0.6"/>
<rect x="405.70" y="560.64" width="40.00" height="5.20" fill="#5f7cc0" stroke="#4b66a3" stroke-width="0.6"/>
<rect x="424.80" y="576.16" width="20.90" height="5.20" fill="#5f7cc0" stroke="#4b66a3" stroke-width="0.6"/>
<rect x="406.20" y="591.68" width="39.50" height="5.20" fill="#5f7cc0" stroke="#4b66a3" stroke-width="0.6"/>
<rect x="409.70" y="607.20" width="36.00" height="5.20" fill="#5f7cc0" stroke="#4b66a3" stroke-width="0.6"/>
<rect x="425.80" y="622.72" width="19.90" height="5.20" fill="#5f7cc0" stroke="#4b66a3" stroke-width="0.6"/>
<rect x="402.40" y="638.24" width="43.30" height="5.20" fill="#5f7cc0" stroke="#4b66a3" stroke-width="0.6"/>
<rect x="421.00" y="653.76" width="24.70" height="5.20" fill="#5f7cc0" stroke="#4b66a3" stroke-width="0.6"/>
<rect x="388.40" y="669.28" width="57.30" height="5.20" fill="#5f7cc0" stroke="#4b66a3" stroke-width="0.6"/>
<rect x="379.80" y="684.80" width="65.90" height="5.20" fill="#5f7cc0" stroke="#4b66a3" stroke-width="0.6"/>
<rect x="408.50" y="700.32" width="37.20" height="5.20" fill="#5f7cc0" stroke="#4b66a3" stroke-width="0.6"/>
<rect x="386.90" y="715.84" width="58.80" height="5.20" fill="#5f7cc0" stroke="#4b66a3" stroke-width="0.6"/>
<rect x="423.00" y="731.36" width="22.70" height="5.20" fill="#5f7cc0" stroke="#4b66a3" stroke-width="0.6"/>
<rect x="409.70" y="746.88" width="36.00" height="5.20" fill="#5f7cc0" stroke="#4b66a3" stroke-width="0.6"/>
<rect x="413.50" y="762.40" width="32.20" height="5.20" fill="#5f7cc0" stroke="#4b66a3" stroke-width="0.6"/>
<rect x="406.20" y="777.92" width="39.50" height="5.20" fill="#5f7cc0" stroke="#4b66a3" stroke-width="0.6"/>
<rect x="406.20" y="793.44" width="39.50" height="5.20" fill="#5f7cc0" stroke="#4b66a3" stroke-width="0.6"/>
<rect x="380.30" y="808.96" width="65.40" height="5.20" fill="#5f7cc0" stroke="#4b66a3" stroke-width="0.6"/>
<rect x="410.60" y="824.48" width="35.10" height="5.20" fill="#5f7cc0" stroke="#4b66a3" stroke-width="0.6"/>
<rect x="408.30" y="840.00" width="37.40" height="5.20" fill="#5f7cc0" stroke="#4b66a3" stroke-width="0.6"/>
<rect x="375.60" y="855.52" width="70.10" height="5.20" fill="#5f7cc0" stroke="#4b66a3" stroke-width="0.6"/>
<line x1="446.10" y1="523.30" x2="446.10" y2="866.00" stroke="#868b94" stroke-width="1.0"/>
<line x1="354.20" y1="866.00" x2="512.80" y2="866.00" stroke="#868b94" stroke-width="1.3"/>
<line x1="354.70" y1="866.00" x2="354.70" y2="869.40" stroke="#a3a8b0" stroke-width="0.6"/>
<line x1="377.30" y1="866.00" x2="377.30" y2="869.40" stroke="#a3a8b0" stroke-width="0.6"/>
<line x1="399.90" y1="866.00" x2="399.90" y2="869.40" stroke="#a3a8b0" stroke-width="0.6"/>
<line x1="422.50" y1="866.00" x2="422.50" y2="869.40" stroke="#a3a8b0" stroke-width="0.6"/>
<line x1="445.10" y1="866.00" x2="445.10" y2="869.40" stroke="#a3a8b0" stroke-width="0.6"/>
<line x1="467.70" y1="866.00" x2="467.70" y2="869.40" stroke="#a3a8b0" stroke-width="0.6"/>
<line x1="490.30" y1="866.00" x2="490.30" y2="869.40" stroke="#a3a8b0" stroke-width="0.6"/>
<line x1="512.90" y1="866.00" x2="512.90" y2="869.40" stroke="#a3a8b0" stroke-width="0.6"/>
<text x="349.15" y="886.20" font-size="11.44" font-weight="bold" fill="#1a1a1a" textLength="10.51" lengthAdjust="spacingAndGlyphs">-4</text>
<text x="372.02" y="886.20" font-size="11.44" font-weight="bold" fill="#1a1a1a" textLength="10.73" lengthAdjust="spacingAndGlyphs">-3</text>
<text x="394.97" y="886.20" font-size="11.44" font-weight="bold" fill="#1a1a1a" textLength="10.68" lengthAdjust="spacingAndGlyphs">-2</text>
<text x="417.89" y="886.20" font-size="11.44" font-weight="bold" fill="#1a1a1a" textLength="10.48" lengthAdjust="spacingAndGlyphs">-1</text>
<text x="442.67" y="886.20" font-size="11.44" font-weight="bold" fill="#1a1a1a" textLength="7.08" lengthAdjust="spacingAndGlyphs">0</text>
<text x="465.48" y="886.20" font-size="11.44" font-weight="bold" fill="#1a1a1a" textLength="6.25" lengthAdjust="spacingAndGlyphs">1</text>
<text x="487.54" y="886.20" font-size="11.44" font-weight="bold" fill="#1a1a1a" textLength="6.58" lengthAdjust="spacingAndGlyphs">2</text>
<text x="509.56" y="886.20" font-size="11.44" font-weight="bold" fill="#1a1a1a" textLength="6.43" lengthAdjust="spacingAndGlyphs">3</text>
<text x="423.32" y="914.30" font-size="13.90" font-weight="bold" fill="#1a1a1a" textLength="21.47" lengthAdjust="spacingAndGlyphs">Log</text>
<text x="445.27" y="917.90" font-size="8.40" font-weight="bold" fill="#1a1a1a" textLength="5.31" lengthAdjust="spacingAndGlyphs">2</text>
<text x="450.67" y="914.30" font-size="13.90" font-weight="bold" fill="#1a1a1a" textLength="16.57" lengthAdjust="spacingAndGlyphs">FC</text>
</svg>
</body></html>
